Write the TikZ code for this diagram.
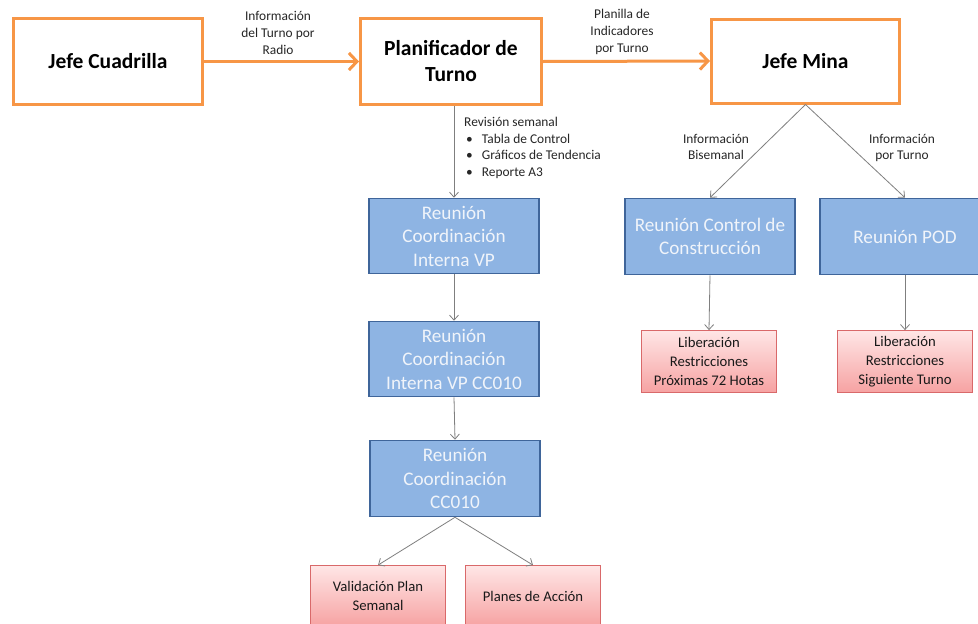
\documentclass[tikz,border=0pt]{standalone}
\usepackage{fontspec}
\setmainfont{Carlito}
\usetikzlibrary{arrows.meta}
\definecolor{orangeline}{HTML}{F79646}
\definecolor{bluefill}{HTML}{8EB4E3}
\definecolor{bluedraw}{HTML}{3F659A}
\definecolor{bluetext}{HTML}{F0F4FA}
\definecolor{pinkdraw}{HTML}{D9696A}
\definecolor{pinktop}{HTML}{FFE6E6}
\definecolor{pinkbot}{HTML}{F6A2A2}
\definecolor{flowgray}{HTML}{7F7F7F}
\begin{document}
\begin{tikzpicture}[x=1pt,y=-1pt,
  role/.style={draw=orangeline, line width=3pt, fill=white, inner sep=0pt,
    align=center, text=black, font=\bfseries\fontsize{21.5}{26}\selectfont},
  meet/.style={draw=bluedraw, line width=1.6pt, fill=bluefill, text=bluetext,
    align=center, inner sep=0pt, minimum width=170pt,
    font=\fontsize{19.2}{23.5}\selectfont},
  result/.style={draw=pinkdraw, line width=0.8pt, top color=pinktop,
    bottom color=pinkbot, align=center, inner sep=0pt, minimum width=135pt,
    text=black!90, font=\fontsize{14.7}{19}\selectfont},
  note/.style={align=center, inner sep=0pt, text=black!85,
    font=\fontsize{13.4}{16.6}\selectfont},
  feed/.style={draw=orangeline, line width=3pt,
    -{Straight Barb[length=8pt,width=17pt,line width=3pt]}},
  flow/.style={draw=flowgray, line width=0.8pt,
    -{Straight Barb[length=5pt,width=9pt]}}]
\useasboundingbox (0,0) rectangle (978,624);
\clip (0,0) rectangle (978,624);
\fill[white] (0,0) rectangle (978,624);

% top row
\node[role, minimum width=189pt, minimum height=86pt] (JC) at (108,61.5) {Jefe Cuadrilla};
\node[role, minimum width=181pt, minimum height=86pt] (PT) at (451,61.5) {Planificador de\\Turno};
\node[role, minimum width=188pt, minimum height=84pt] (JM) at (805.5,61) {Jefe Mina};

\draw[feed] (JC.east) -- (PT.west);
\draw[feed] (PT.east) -- (JM.west);
\node[note] (radio) at (278,33) {Información\\del Turno por\\Radio};
\node[note] (planilla) at (622,32) {Planilla de\\Indicadores\\por Turno};

% left column of meetings
\node[meet, minimum height=75pt] (R1) at (454,236) {Reunión\\Coordinación\\Interna VP};
\node[meet, minimum height=75pt] (R2) at (454,359) {Reunión\\Coordinación\\Interna VP CC010};
\node[meet, minimum height=76pt] (R3) at (455,478.5) {Reunión\\Coordinación\\CC010};

\draw[flow] (R1.north |- PT.south) -- (R1.north);
\node[note, align=left, anchor=north west] (rev) at (464,117)
  {Revisión semanal\\
   \hspace*{2pt}\textbullet\hspace{9pt}Tabla de Control\\
   \hspace*{2pt}\textbullet\hspace{9pt}Gráficos de Tendencia\\
   \hspace*{2pt}\textbullet\hspace{9pt}Reporte A3};
\draw[flow] (R1.south) -- (R2.north);
\draw[flow] (R2.south) -- (R3.north);

\node[result, minimum height=61pt] (VP) at (378,596) {Validación Plan\\Semanal};
\node[result, minimum height=61pt] (PA) at (533,596) {Planes de Acción};
\draw[flow] (R3.south) -- (VP.north);
\draw[flow] (R3.south) -- (PA.north);

% right branch under Jefe Mina
\node[meet, minimum height=76pt] (CC) at (710,236.5) {Reunión Control de\\Construcción};
\node[meet, minimum height=76pt] (POD) at (905,236.5) {Reunión POD};
\draw[flow] (JM.south) -- (CC.north);
\draw[flow] (JM.south) -- (POD.north);
\node[note] (bis) at (716,147) {Información\\Bisemanal};
\node[note] (turno) at (902,148) {Información\\por Turno};

\node[result, minimum height=62pt] (L72) at (709,361.5) {Liberación\\Restricciones\\Próximas 72 Hotas};
\node[result, minimum height=62pt] (LST) at (905,361.5) {Liberación\\Restricciones\\Siguiente Turno};
\draw[flow] (CC.south) -- (L72.north);
\draw[flow] (POD.south) -- (LST.north);
\end{tikzpicture}
\end{document}
